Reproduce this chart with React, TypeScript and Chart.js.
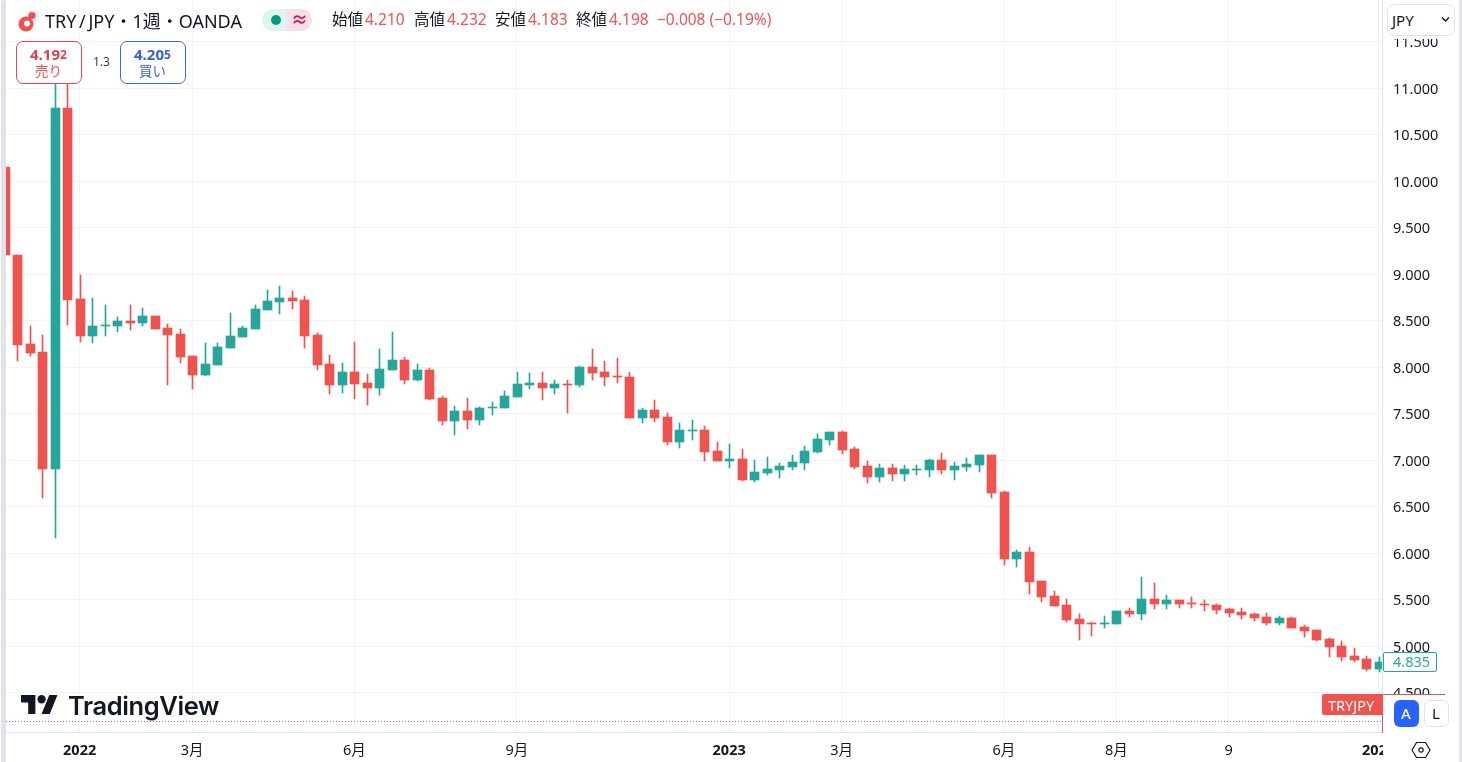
import React, { useEffect, useRef } from "react";
import { Chart, registerables } from "chart.js";

Chart.register(...registerables);

const opens = [10.156,9.21,8.252,8.167,6.909,10.79,8.737,8.339,8.446,8.446,8.5,8.478,8.554,8.425,8.36,8.124,7.919,8.027,8.21,8.328,8.414,8.618,8.704,8.747,8.726,8.349,8.038,7.812,7.952,7.833,7.779,7.973,8.081,7.866,7.973,7.672,7.425,7.532,7.436,7.564,7.564,7.683,7.812,7.833,7.779,7.822,7.812,8.005,7.952,7.909,7.898,7.457,7.543,7.468,7.199,7.317,7.328,7.102,6.995,7.016,6.79,6.865,6.898,6.93,6.973,7.091,7.22,7.306,7.124,6.941,6.822,6.919,6.855,6.898,6.898,7.005,6.898,6.93,6.952,7.059,6.661,5.941,6.016,5.704,5.543,5.446,5.296,5.253,5.242,5.242,5.382,5.349,5.511,5.457,5.5,5.468,5.457,5.446,5.403,5.371,5.349,5.317,5.253,5.306,5.21,5.177,5.081,5.005,4.898,4.865,4.758];
const highs = [10.156,9.21,8.446,8.349,11.253,11.199,8.994,8.747,8.672,8.543,8.672,8.64,8.554,8.468,8.414,8.124,8.263,8.263,8.586,8.446,8.672,8.833,8.876,8.822,8.769,8.371,8.134,8.048,8.274,7.93,8.199,8.382,8.113,8.038,7.995,7.694,7.586,7.672,7.575,7.629,7.747,7.952,7.941,7.952,7.866,7.866,8.016,8.199,8.07,8.102,7.952,7.564,7.651,7.511,7.403,7.436,7.371,7.199,7.177,7.124,7.005,7.038,6.973,7.059,7.156,7.285,7.306,7.317,7.145,6.995,6.962,6.962,6.952,6.952,7.016,7.081,6.984,7.027,7.059,7.059,6.672,6.038,6.07,5.704,5.597,5.511,5.349,5.263,5.328,5.382,5.414,5.747,5.683,5.554,5.5,5.532,5.5,5.457,5.414,5.414,5.36,5.36,5.328,5.317,5.231,5.177,5.091,5.059,4.984,4.898,4.887];
const lows = [9.21,8.07,8.124,6.597,6.167,8.457,8.274,8.263,8.339,8.382,8.403,8.446,8.414,7.812,8.048,7.769,7.909,8.027,8.21,8.328,8.414,8.618,8.575,8.629,8.21,7.973,7.715,7.726,7.661,7.597,7.704,7.973,7.822,7.855,7.651,7.382,7.274,7.339,7.382,7.489,7.564,7.683,7.769,7.651,7.715,7.511,7.79,7.866,7.801,7.833,7.457,7.403,7.414,7.167,7.134,7.22,6.995,6.995,6.919,6.779,6.769,6.844,6.812,6.898,6.898,7.081,7.167,7.07,6.909,6.758,6.769,6.779,6.779,6.844,6.822,6.855,6.79,6.887,6.876,6.597,5.876,5.855,5.564,5.478,5.436,5.263,5.07,5.113,5.199,5.242,5.317,5.285,5.403,5.403,5.414,5.414,5.382,5.349,5.317,5.296,5.274,5.231,5.231,5.199,5.102,5.059,4.887,4.844,4.833,4.736,4.726];
const closes = [9.21,8.242,8.156,6.909,10.79,8.726,8.339,8.446,8.457,8.5,8.478,8.554,8.414,8.349,8.113,7.919,8.038,8.22,8.339,8.425,8.629,8.715,8.747,8.715,8.339,8.027,7.812,7.952,7.822,7.779,7.984,8.081,7.866,7.973,7.661,7.425,7.532,7.436,7.564,7.575,7.694,7.822,7.833,7.779,7.822,7.812,8.005,7.941,7.898,7.898,7.457,7.543,7.457,7.199,7.328,7.328,7.091,6.995,7.016,6.79,6.876,6.909,6.941,6.984,7.102,7.231,7.306,7.113,6.93,6.822,6.919,6.855,6.909,6.909,7.005,6.898,6.941,6.962,7.059,6.65,5.941,6.016,5.693,5.532,5.436,5.285,5.242,5.242,5.253,5.382,5.349,5.511,5.457,5.5,5.457,5.457,5.446,5.392,5.36,5.338,5.306,5.253,5.306,5.199,5.167,5.07,4.994,4.887,4.855,4.758,4.833];

const yTicks = [4.5,5,5.5,6,6.5,7,7.5,8,8.5,9,9.5,10,10.5,11,11.5];
const xTickIndexes = [6,15,28,41,58,67,80,89,98,110];
const xTickLabels = ["2022","3月","6月","9月","2023","3月","6月","8月","9","2024"];
const boldXTicks = ["2022","2023","2024"];
const lastPrice = 4.194;
const lastClose = "4.835";

const UP = "#26a69a";
const DOWN = "#ef5350";
const GRID = "#f0f3fa";
const EDGE = "#e0e3eb";
const INK = "#131722";
const FONT = '"Noto Sans", "Noto Sans CJK JP", sans-serif';

const X_MIN = 0.104;
const X_MAX = 110.27;
const Y_MIN = 4.0806;
const Y_MAX = 11.9516;

const snapBars = {
  id: "snapBars",
  afterDatasetsUpdate(chart: any) {
    chart.data.datasets.forEach((ds: any, i: number) => {
      if (ds.type !== "bar") return;
      for (const el of chart.getDatasetMeta(i).data as any[]) {
        el.x = Math.round(el.x) + 0.5;
        el.y = Math.round(el.y);
        el.base = Math.round(el.base);
        if (el.y === el.base) el.base = el.y + 1;
      }
    });
  },
};

const T = ({ l, t, s = 15.5, c = INK, w = 400, children, st }: any) => (
  <div style={{ position: "absolute", left: l, top: t, fontSize: s, color: c, fontWeight: w, lineHeight: 1, whiteSpace: "nowrap", fontFamily: FONT, ...st }}>{children}</div>
);

export default function App() {
  const ref = useRef<HTMLCanvasElement>(null);
  useEffect(() => {
    const candleColor = (c: any) => (closes[c.dataIndex] >= opens[c.dataIndex] ? UP : DOWN);
    const chart = new Chart(ref.current as any, {
      type: "bar",
      plugins: [snapBars],
      data: {
        datasets: [
          { type: "line", data: [{ x: X_MIN, y: lastPrice }, { x: X_MAX, y: lastPrice }], borderColor: DOWN, borderWidth: 1, borderDash: [1, 2], pointRadius: 0, order: 3 },
          { type: "bar", data: lows.map((v, i) => ({ x: i, y: [v, highs[i]] })), backgroundColor: candleColor, barThickness: 1, grouped: false, order: 2 },
          { type: "bar", data: opens.map((v, i) => ({ x: i, y: [v, closes[i]] })), backgroundColor: candleColor, barThickness: 9, minBarLength: 1, grouped: false, order: 1 },
        ] as any,
      },
      options: {
        animation: false,
        responsive: false,
        layout: { autoPadding: false, padding: { left: 6, right: 0, top: 0, bottom: 0 } },
        plugins: { legend: { display: false }, tooltip: { enabled: false } },
        scales: {
          x: {
            type: "linear",
            offset: false,
            min: X_MIN,
            max: X_MAX,
            afterFit: (a: any) => { a.height = 30; a.paddingLeft = 0; a.paddingRight = 0; },
            afterBuildTicks: (a: any) => { a.ticks = xTickIndexes.map((value) => ({ value })); },
            grid: { color: GRID, offset: false, drawTicks: false },
            border: { color: EDGE },
            ticks: {
              autoSkip: false,
              maxRotation: 0,
              padding: 10,
              color: INK,
              callback: (v: any) => xTickLabels[xTickIndexes.indexOf(v)],
              font: (c: any) => ({ family: FONT, size: 14.5, weight: boldXTicks.includes(xTickLabels[xTickIndexes.indexOf(c.tick?.value)]) ? "bold" : "normal" }),
            },
          },
          y: {
            type: "linear",
            position: "right",
            min: Y_MIN,
            max: Y_MAX,
            afterFit: (a: any) => { a.width = 80; a.paddingTop = 0; a.paddingBottom = 0; },
            afterBuildTicks: (a: any) => { a.ticks = yTicks.map((value) => ({ value })); },
            grid: { color: GRID, drawTicks: false },
            border: { color: EDGE },
            ticks: {
              padding: 11,
              labelOffset: 1,
              color: INK,
              font: { family: FONT, size: 14.5 },
              callback: (v: any) => Number(v).toFixed(3),
            },
          },
        },
      } as any,
    });
    return () => chart.destroy();
  }, []);

  return (
    <div style={{ position: "fixed", left: 0, top: 0, width: 1462, height: 762, background: "#fff", overflow: "hidden" }}>
      <canvas ref={ref} width={1462} height={762} style={{ position: "absolute", left: 0, top: 0, width: 1462, height: 762 }} />

      {/* window strips */}
      <div style={{ position: "absolute", left: 1, top: 0, width: 5, height: 762, background: EDGE, borderTopLeftRadius: 3 }} />
      <div style={{ position: "absolute", left: 1459, top: 0, width: 3, height: 762, background: EDGE }} />

      {/* symbol logo */}
      <svg style={{ position: "absolute", left: 16, top: 7 }} width={26} height={26} viewBox="0 0 26 26">
        <circle cx="17" cy="9" r="6" fill="#e3ebfb" />
        <circle cx="10" cy="17" r="7.5" fill="#ef5350" />
        <circle cx="16" cy="8.5" r="3.6" fill="#ef5350" />
        <circle cx="11" cy="16.5" r="3" fill="#fff" />
      </svg>
      <T l={45} t={12} s={18} st={{ wordSpacing: -2 }}>TRY / JPY・1週・OANDA</T>

      {/* market status pill */}
      <div style={{ position: "absolute", left: 262, top: 9, width: 25, height: 22, background: "#dff4ef", borderRadius: "11px 0 0 11px" }} />
      <div style={{ position: "absolute", left: 287, top: 9, width: 25, height: 22, background: "#fbdfe8", borderRadius: "0 11px 11px 0" }} />
      <div style={{ position: "absolute", left: 271, top: 15, width: 10, height: 10, background: "#089981", borderRadius: 5 }} />
      <T l={291} t={11} s={17} c="#c2185b" w={700}>≈</T>

      {/* OHLC legend */}
      <T l={332} t={12}>始値</T><T l={365} t={12} c={DOWN}>4.210</T>
      <T l={414} t={12}>高値</T><T l={447} t={12} c={DOWN}>4.232</T>
      <T l={495} t={12}>安値</T><T l={528} t={12} c={DOWN}>4.183</T>
      <T l={576} t={12}>終値</T><T l={609} t={12} c={DOWN}>4.198</T>
      <T l={657} t={12} c={DOWN}>−0.008 (−0.19%)</T>

      {/* sell / buy */}
      <div style={{ position: "absolute", left: 16, top: 41, width: 64, height: 41, background: "#fff", border: `1px solid #e0474f`, borderRadius: 7 }} />
      <T l={30} t={47} s={15} c="#e0404a" w={700}>4.19<span style={{ fontSize: 12, position: "relative", top: -1 }}>2</span></T>
      <T l={35} t={65} s={13.5} c={DOWN}>売り</T>
      <T l={93} t={56} s={12} c="#3b3f4a">1.3</T>
      <div style={{ position: "absolute", left: 120, top: 41, width: 64, height: 41, background: "#fff", border: `1px solid #3f69d9`, borderRadius: 7 }} />
      <T l={134} t={47} s={15} c="#3660dd" w={700}>4.20<span style={{ fontSize: 12, position: "relative", top: -1 }}>5</span></T>
      <T l={139} t={65} s={13.5} c="#3f69d9">買い</T>

      {/* TradingView logo */}
      <svg style={{ position: "absolute", left: 21, top: 695 }} width={37} height={19} viewBox="0 4 36 18" preserveAspectRatio="none" fill={INK}>
        <path d="M14 22H7V11H0V4h14v18zM28 22h-8l7.5-18h8L28 22z" />
        <circle cx="20" cy="8" r="4" />
      </svg>
      <T l={68} t={693} s={25.5} w={600} st={{ fontFamily: "Inter, sans-serif", letterSpacing: -0.4 }}>TradingView</T>

      {/* currency selector, masking the top of the price axis */}
      <div style={{ position: "absolute", left: 1383, top: 0, width: 76, height: 39, background: "#fff" }} />
      <div style={{ position: "absolute", left: 1387, top: 4, width: 66, height: 30, background: "#fff", border: `1px solid ${EDGE}`, borderRadius: 7 }} />
      <T l={1392} t={13} s={15}>JPY</T>
      <svg style={{ position: "absolute", left: 1441, top: 16 }} width={9} height={7} viewBox="0 0 9 7"><path d="M1 1.5l3.5 3.5L8 1.5" fill="none" stroke={INK} strokeWidth="1.4" /></svg>

      {/* last close label */}
      <div style={{ position: "absolute", left: 1383, top: 652, width: 52, height: 18, background: "#fff", border: `1px solid ${UP}`, borderRadius: 2 }} />
      <T l={1393} t={654} s={14.5} c={UP}>{lastClose}</T>

      {/* lower right panel */}
      <div style={{ position: "absolute", left: 1383, top: 695, width: 76, height: 37, background: "#fff" }} />
      <div style={{ position: "absolute", left: 1383, top: 694, width: 62, height: 1, background: DOWN }} />
      <div style={{ position: "absolute", left: 1382, top: 694, width: 1, height: 39, background: DOWN }} />
      <div style={{ position: "absolute", left: 1322, top: 694, width: 60, height: 21, background: DOWN, borderRadius: "2px 0 0 2px" }} />
      <T l={1328} t={698} c="#fff" s={14.5}>TRYJPY</T>
      <div style={{ position: "absolute", left: 1394, top: 700, width: 25, height: 27, background: "#2962ff", borderRadius: 6 }} />
      <T l={1401} t={706} c="#fff" s={15} w={500}>A</T>
      <div style={{ position: "absolute", left: 1424, top: 700, width: 23, height: 25, background: "#fff", border: `1px solid ${EDGE}`, borderRadius: 6 }} />
      <T l={1432} t={706} s={15}>L</T>

      {/* clipped end of the time axis and settings */}
      <div style={{ position: "absolute", left: 1383, top: 733, width: 76, height: 29, background: "#fff" }} />
      <svg style={{ position: "absolute", left: 1411, top: 741 }} width={20} height={18} viewBox="0 0 20 18" fill="none" stroke={INK} strokeWidth="1.2">
        <path d="M5.5 1.5h9L19 9l-4.5 7.5h-9L1 9z" />
        <circle cx="10" cy="9" r="2.2" />
      </svg>
    </div>
  );
}
